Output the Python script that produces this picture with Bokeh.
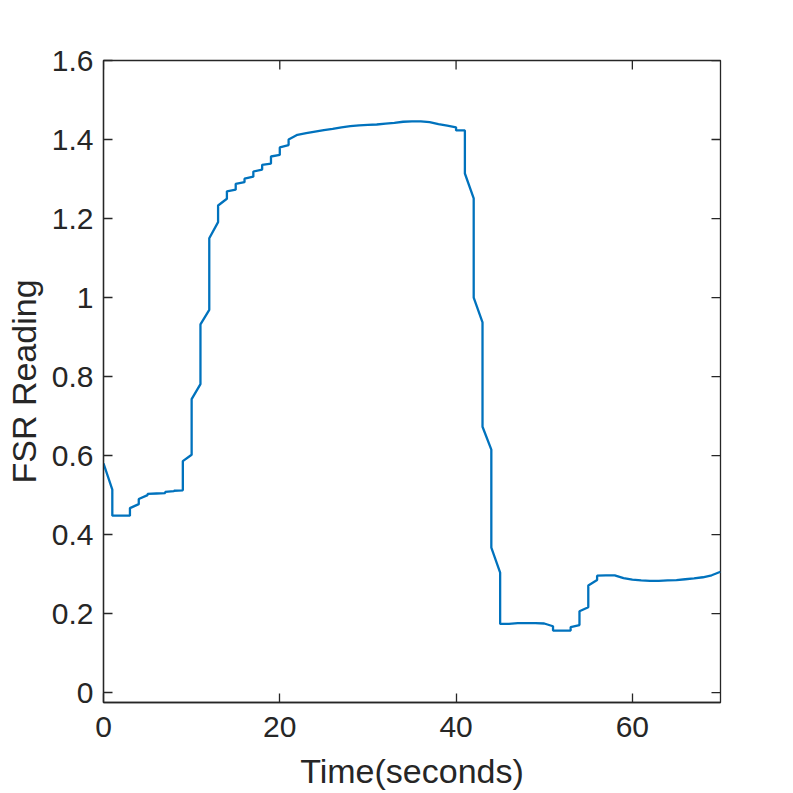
from bokeh.plotting import figure
from bokeh.models import FixedTicker, Range1d
from bokeh.embed import file_html
from bokeh.resources import INLINE

time_s = [0, 1, 1, 2, 3, 3, 4, 4, 5, 5, 6, 7, 7, 8, 8, 9, 9, 10, 10, 11, 11, 12, 12,
          13, 13, 14, 14, 15, 15, 16, 16, 17, 17, 18, 18, 19, 19, 20, 20, 21, 21,
          22, 23, 24, 25, 26, 27, 28, 29, 30, 31, 32, 33, 34, 35, 36, 37, 38, 39,
          40, 40, 41, 41, 42, 42, 43, 43, 44, 44, 45, 45, 46, 47, 48, 49, 50, 51,
          51, 52, 53, 53, 54, 54, 55, 55, 56, 56, 57, 58, 59, 60, 61, 62, 63, 64,
          65, 66, 67, 68, 69, 70]
fsr = [0.580, 0.514, 0.448, 0.448, 0.448, 0.467, 0.477, 0.490, 0.500, 0.503, 0.504,
       0.505, 0.508, 0.510, 0.511, 0.512, 0.586, 0.602, 0.743, 0.781, 0.932, 0.969,
       1.150, 1.191, 1.233, 1.250, 1.269, 1.273, 1.288, 1.292, 1.301, 1.306, 1.319,
       1.324, 1.336, 1.339, 1.357, 1.361, 1.380, 1.386, 1.400,
       1.412, 1.416, 1.420, 1.424, 1.427, 1.431, 1.434, 1.436, 1.437, 1.438, 1.440,
       1.442, 1.445, 1.446, 1.446, 1.444, 1.439, 1.435,
       1.431, 1.423, 1.423, 1.314, 1.251, 1.000, 0.937, 0.673, 0.615, 0.367, 0.304,
       0.174, 0.174, 0.176, 0.176, 0.176, 0.175, 0.168,
       0.157, 0.157, 0.157, 0.166, 0.171, 0.206, 0.216, 0.271, 0.285, 0.296, 0.297,
       0.297, 0.290, 0.286, 0.284, 0.283, 0.283, 0.284,
       0.285, 0.287, 0.289, 0.292, 0.297, 0.306]

x_ticks = [0, 20, 40, 60]
y_ticks = [0, 0.2, 0.4, 0.6, 0.8, 1.0, 1.2, 1.4, 1.6]
y_tick_labels = {0: "0", 0.2: "0.2", 0.4: "0.4", 0.6: "0.6", 0.8: "0.8",
                 1.0: "1", 1.2: "1.2", 1.4: "1.4", 1.6: "1.6"}

FONT = "Liberation Sans"
AX = "#262626"
X0, X1 = 0, 70
Y0, Y1 = -0.025, 1.6
W, H = 793, 793
BL, BR, BT, BB = 103, 73, 60, 91
TICK_PX = 9

p = figure(width=W, height=H, output_backend="svg", toolbar_location=None,
           x_range=Range1d(X0, X1), y_range=Range1d(Y0, Y1),
           min_border_left=BL, min_border_right=BR, min_border_top=BT,
           min_border_bottom=BB, background_fill_color="white",
           border_fill_color="white")
p.line(time_s, fsr, line_color="#0072BD", line_width=2.3)

p.xgrid.visible = False
p.ygrid.visible = False
p.outline_line_color = AX
p.outline_line_width = 1.3

# mirrored inward ticks on the right and top edges (MATLAB box style)
fw = W - BL - BR
fh = H - BT - BB
dx = TICK_PX * (X1 - X0) / fw
dy = TICK_PX * (Y1 - Y0) / fh
p.segment(x0=[X1] * len(y_ticks), y0=y_ticks, x1=[X1 - dx] * len(y_ticks),
          y1=y_ticks, line_color=AX, line_width=1.3)
p.segment(x0=x_ticks, y0=[Y1] * len(x_ticks), x1=x_ticks,
          y1=[Y1 - dy] * len(x_ticks), line_color=AX, line_width=1.3)

def style(ax, ticks):
    ax.ticker = FixedTicker(ticks=ticks)
    ax.axis_line_color = AX
    ax.axis_line_width = 1.3
    ax.major_tick_line_color = AX
    ax.major_tick_line_width = 1.3
    ax.major_tick_in = TICK_PX
    ax.major_tick_out = 0
    ax.minor_tick_line_color = None
    ax.major_label_text_font = FONT
    ax.major_label_text_font_size = "30px"
    ax.major_label_text_color = AX
    ax.axis_label_text_font = FONT
    ax.axis_label_text_font_size = "34px"
    ax.axis_label_text_font_style = "normal"
    ax.axis_label_text_color = AX

xa = p.xaxis[0]
style(xa, x_ticks)
xa.axis_label = "Time(seconds)"
xa.major_label_standoff = 14
xa.axis_label_standoff = 12

ya = p.yaxis[0]
style(ya, y_ticks)
ya.major_label_overrides = y_tick_labels
ya.axis_label = "FSR Reading"
ya.major_label_standoff = 10
ya.axis_label_standoff = 6

open("out.html", "w").write(file_html(p, INLINE))
